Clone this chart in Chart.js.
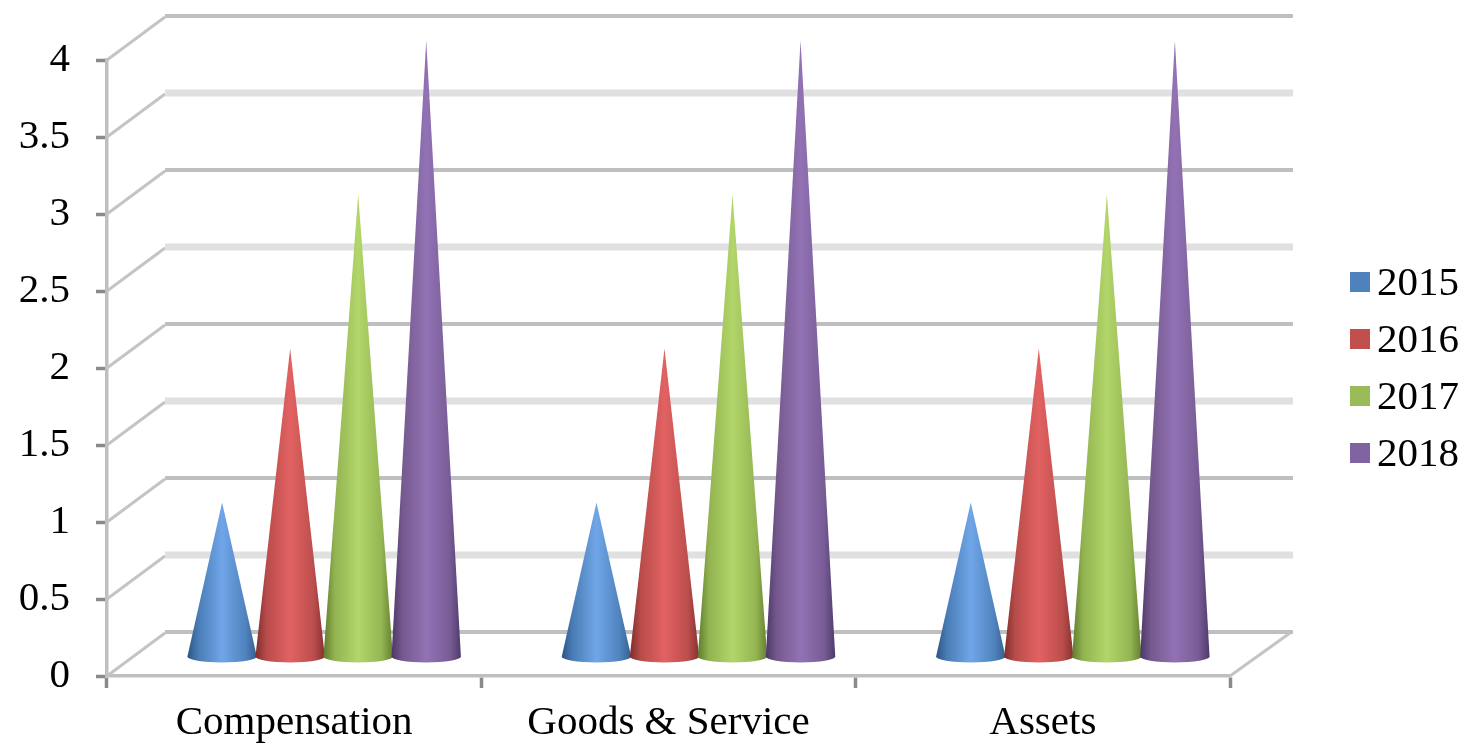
<!DOCTYPE html>
<html>
<head>
<meta charset="utf-8">
<title>Cone chart</title>
<script src="https://cdn.jsdelivr.net/npm/chart.js@4/dist/chart.umd.min.js"></script>
<style>
  html, body { margin: 0; padding: 0; background: #fff; }
  canvas { display: block; }
</style>
</head>
<body>
<canvas id="myChart" width="1467" height="744"></canvas>
<script>
const categories = ['Compensation', 'Goods & Service', 'Assets'];
const years = ['2015', '2016', '2017', '2018'];
const values2015 = [1, 1, 1];
const values2016 = [2, 2, 2];
const values2017 = [3, 3, 3];
const values2018 = [4, 4, 4];
const seriesValues = [values2015, values2016, values2017, values2018];

const swatchColors = ['#4f81bd', '#c0504d', '#9bbb59', '#8064a2'];
// left edge, shoulder, middle highlight, right shoulder, right edge of each cone
const coneShades = [
  ['#2b5684', '#4a7db6', '#70a6e8', '#4f83bd', '#345f8e'],
  ['#7e2d2c', '#b84c4a', '#e26262', '#bb4e4c', '#853130'],
  ['#5f7a2c', '#92b350', '#b2d66a', '#94b552', '#637f30'],
  ['#4b3866', '#76598f', '#9272b4', '#785c96', '#4f3b6b']
];

const FONT = '"Liberation Serif", "Times New Roman", serif';
const DEPTH_X = 58, DEPTH_Y = 43;   // how far the back wall sits from the front axes

// floor, back wall and the slanted lines joining them to the value axis
function drawWalls(chart) {
  const { ctx, chartArea, scales } = chart;
  const y = scales.y;
  y.ticks.forEach(tick => {
    const py = y.getPixelForValue(tick.value);
    const whole = Number.isInteger(tick.value);
    ctx.strokeStyle = '#c4c4c4';
    ctx.lineWidth = 3;
    ctx.beginPath();
    ctx.moveTo(chartArea.left, py);
    ctx.lineTo(chartArea.left + DEPTH_X, py - DEPTH_Y);
    ctx.stroke();
    ctx.strokeStyle = whole ? '#bfbfbf' : '#e0e0e0';
    ctx.lineWidth = whole ? 4 : 7;
    ctx.beginPath();
    ctx.moveTo(chartArea.left + DEPTH_X, py - DEPTH_Y - 1);
    ctx.lineTo(chartArea.right + DEPTH_X + 5, py - DEPTH_Y - 1);
    ctx.stroke();
  });
  ctx.strokeStyle = '#c4c4c4';
  ctx.lineWidth = 3;
  ctx.beginPath();
  ctx.moveTo(chartArea.right, chartArea.bottom);
  ctx.lineTo(chartArea.right + DEPTH_X + 2, chartArea.bottom - DEPTH_Y);
  ctx.stroke();
}

function drawCone(ctx, bar, shades) {
  const cx = bar.x + DEPTH_X / 2 + 1;
  const apex = bar.y - DEPTH_Y / 2 + 2;
  const baseY = bar.base - 19;
  const r = bar.width * 0.51;
  const grad = ctx.createLinearGradient(cx - r, 0, cx + r, 0);
  [0, 0.16, 0.5, 0.84, 1].forEach((stop, i) => grad.addColorStop(stop, shades[i]));
  ctx.fillStyle = grad;
  ctx.beginPath();
  ctx.moveTo(cx, apex);
  ctx.lineTo(cx - r, baseY);
  ctx.ellipse(cx, baseY, r, 6, 0, Math.PI, 0, true);
  ctx.closePath();
  ctx.fill();
}

function drawLegend(chart) {
  const ctx = chart.ctx;
  ctx.save();
  ctx.font = '41px ' + FONT;
  ctx.textAlign = 'left';
  ctx.textBaseline = 'alphabetic';
  chart.data.datasets.forEach((ds, i) => {
    const mid = 282 + i * 57;
    ctx.fillStyle = ds.backgroundColor;
    ctx.fillRect(1350, mid - 10, 20, 20);
    ctx.fillStyle = '#000';
    ctx.fillText(ds.label, 1377, mid + 13);
  });
  ctx.restore();
}

const conePlugin = {
  id: 'cones',
  beforeDatasetsDraw(chart) {
    const ctx = chart.ctx;
    ctx.save();
    drawWalls(chart);
    // later series sit in front of earlier ones
    chart.data.datasets.forEach((ds, i) => {
      chart.getDatasetMeta(i).data.forEach(bar => drawCone(ctx, bar, coneShades[i]));
    });
    ctx.restore();
    return false;
  },
  afterDraw: drawLegend
};

new Chart(document.getElementById('myChart').getContext('2d'), {
  type: 'bar',
  data: {
    labels: categories,
    datasets: years.map((year, i) => ({
      label: year,
      data: seriesValues[i],
      backgroundColor: swatchColors[i]
    }))
  },
  options: {
    responsive: false,
    animation: false,
    layout: { padding: { top: 60, right: 237, bottom: 0, left: 0 } },
    categoryPercentage: 0.727,
    barPercentage: 1,
    plugins: { legend: { display: false }, tooltip: { enabled: false } },
    scales: {
      x: {
        afterFit(s) { s.height = 68; },
        border: { color: '#bfbfbf', width: 3.5 },
        grid: { drawOnChartArea: false, tickLength: 12, tickColor: '#8a8a8a', tickWidth: 3.5 },
        ticks: { color: '#000', padding: 11, maxRotation: 0, autoSkip: false, font: { family: FONT, size: 41 } }
      },
      y: {
        min: 0,
        max: 4,
        afterFit(s) { s.width = 107; },
        border: { color: '#bfbfbf', width: 3.5 },
        grid: { drawOnChartArea: false, tickLength: 11, tickColor: '#8a8a8a', tickWidth: 3.5 },
        ticks: {
          stepSize: 0.5,
          color: '#000',
          padding: 26,
          font: { family: FONT, size: 41 },
          callback: v => String(v)
        }
      }
    }
  },
  plugins: [conePlugin]
});
</script>
</body>
</html>
